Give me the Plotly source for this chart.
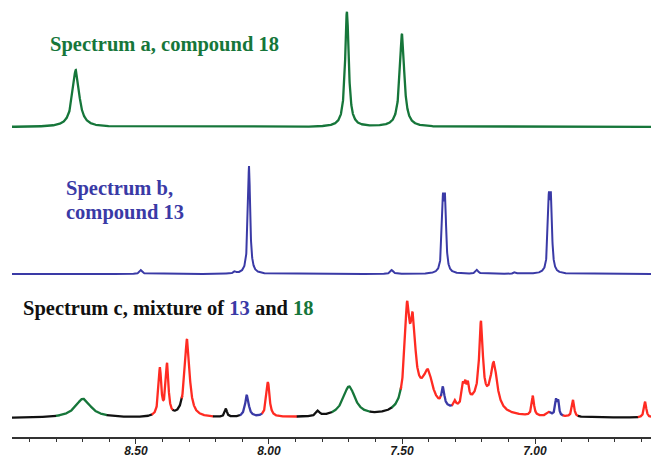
import numpy as np
import plotly.graph_objects as go

# ---------------- data ----------------
# chemical-shift axis (ppm), reversed as in NMR
tick_vals = [8.5, 8.0, 7.5, 7.0]
tick_text = ["8.50", "8.00", "7.50", "7.00"]
minor_ticks = [round(v, 1) for v in np.arange(6.6, 9.0, 0.1)]

# Spectrum a (compound 18): peak centres (ppm), heights, widths (ppm)
a_ppm = [8.726, 7.707, 7.500]
a_height = [57, 115, 93]
a_width = [0.030, 0.016, 0.020]

# Spectrum b (compound 13)
b_ppm = [8.481, 8.128, 8.075, 7.538, 7.346, 7.338, 7.218, 7.075, 6.948, 6.940]
b_height = [4, 2, 108, 4, 65, 65, 4, 2, 66, 66]
b_width = [0.012, 0.010, 0.010, 0.012, 0.009, 0.009, 0.012, 0.010, 0.009, 0.009]

# Spectrum c (mixture of 13 and 18)
c_ppm = [8.699, 8.410, 8.383, 8.308, 8.162, 8.083, 8.004, 7.816, 7.699,
         7.481, 7.459, 7.430, 7.402, 7.346, 7.301, 7.271, 7.262, 7.252, 7.220,
         7.203, 7.155, 7.008, 6.947, 6.921, 6.913, 6.857, 6.586]
c_height = [19, 47, 51, 78, 8, 22, 35, 5, 30,
            90, 70, 16, 29, 18, 6, 18, 16, 16, 14,
            78, 46, 20, 4, 15, 14, 17, 16]
c_width = [0.070, 0.012, 0.012, 0.022, 0.010, 0.016, 0.014, 0.015, 0.055,
           0.022, 0.022, 0.120, 0.040, 0.012, 0.010, 0.010, 0.010, 0.010, 0.120,
           0.016, 0.030, 0.010, 0.020, 0.008, 0.008, 0.010, 0.010]

# colour segments of spectrum c: (from ppm, to ppm, assignment)
c_seg_start = [8.97, 8.80, 8.609, 8.44, 8.361, 8.327, 8.21, 8.109, 8.026, 7.895,
               7.763, 7.62, 7.538, 7.504, 7.353, 7.312, 6.944, 6.895, 6.838, 6.613]
c_seg_end = [8.80, 8.609, 8.44, 8.361, 8.327, 8.21, 8.109, 8.026, 7.895, 7.763,
             7.62, 7.538, 7.504, 7.353, 7.312, 6.944, 6.895, 6.838, 6.613, 6.55]
c_seg_kind = ["none", "18", "none", "both", "none", "both", "none", "13", "both", "none",
              "18", "none", "18", "both", "13", "both", "13", "both", "none", "both"]

# ---------------- styling ----------------
GREEN = "#16763a"
BLUE = "#3a3aa6"
RED = "#ff2b22"
BLACK = "#111111"
kind_color = {"none": BLACK, "18": GREEN, "13": BLUE, "both": RED}

X_RANGE = [8.966, 6.564]
Y_TOP = 437
base_a, base_b, base_c = 310, 163, 19

x = np.linspace(6.55, 8.98, 6000)


def spectrum(centres, heights, widths):
    y = np.zeros_like(x)
    for c, h, w in zip(centres, heights, widths):
        y += h / (1 + ((x - c) / (w / 2)) ** 2)
    return y


ya = spectrum(a_ppm, a_height, a_width) + base_a
yb = spectrum(b_ppm, b_height, b_width) + base_b
yc = spectrum(c_ppm, c_height, c_width) + base_c

fig = go.Figure()
fig.add_trace(go.Scatter(x=x, y=ya, mode="lines", line=dict(color=GREEN, width=2.3), hoverinfo="skip"))
fig.add_trace(go.Scatter(x=x, y=yb, mode="lines", line=dict(color=BLUE, width=2), hoverinfo="skip"))
for s, e, k in zip(c_seg_start, c_seg_end, c_seg_kind):
    lo, hi = min(s, e), max(s, e)
    m = (x >= lo - 0.001) & (x <= hi + 0.001)
    fig.add_trace(go.Scatter(x=x[m], y=yc[m], mode="lines",
                             line=dict(color=kind_color[k], width=2.3), hoverinfo="skip"))

serif = "Liberation Serif"
FS = 20.5
fig.add_annotation(x=8.831, y=393, xref="x", yref="y", xanchor="left", yanchor="middle",
                   text="<b>Spectrum a, compound 18</b>", showarrow=False,
                   font=dict(family=serif, size=FS, color=GREEN))
fig.add_annotation(x=8.770, y=249, xref="x", yref="y", xanchor="left", yanchor="middle",
                   text="<b>Spectrum b,</b>", showarrow=False,
                   font=dict(family=serif, size=FS, color=BLUE))
fig.add_annotation(x=8.770, y=225, xref="x", yref="y", xanchor="left", yanchor="middle",
                   text="<b>compound 13</b>", showarrow=False,
                   font=dict(family=serif, size=FS, color=BLUE))
fig.add_annotation(x=8.932, y=129, xref="x", yref="y", xanchor="left", yanchor="middle",
                   text=("<b>Spectrum c, mixture of <span style='color:%s'>13</span> and "
                         "<span style='color:%s'>18</span></b>" % (BLUE, GREEN)),
                   showarrow=False, font=dict(family=serif, size=FS, color=BLACK))

fig.update_layout(
    width=651, height=457,
    margin=dict(l=12, r=0, t=0, b=20),
    paper_bgcolor="white", plot_bgcolor="white",
    showlegend=False,
    xaxis=dict(range=X_RANGE, showgrid=False, zeroline=False, automargin=False,
               showline=True, linecolor="#333333", linewidth=1.5,
               ticks="outside", ticklen=5, tickwidth=1.3, tickcolor="#333333",
               ticklabelstandoff=-3,
               tickvals=tick_vals, ticktext=["<b><i>%s</i></b>" % t for t in tick_text],
               tickfont=dict(family="Liberation Sans", size=12, color="#1a1a1a"),
               minor=dict(tickvals=minor_ticks, ticks="outside", ticklen=3,
                          tickwidth=1.3, tickcolor="#333333", showgrid=False)),
    yaxis=dict(range=[0, Y_TOP], visible=False, showgrid=False, zeroline=False),
)

fig.write_html("out.html")
